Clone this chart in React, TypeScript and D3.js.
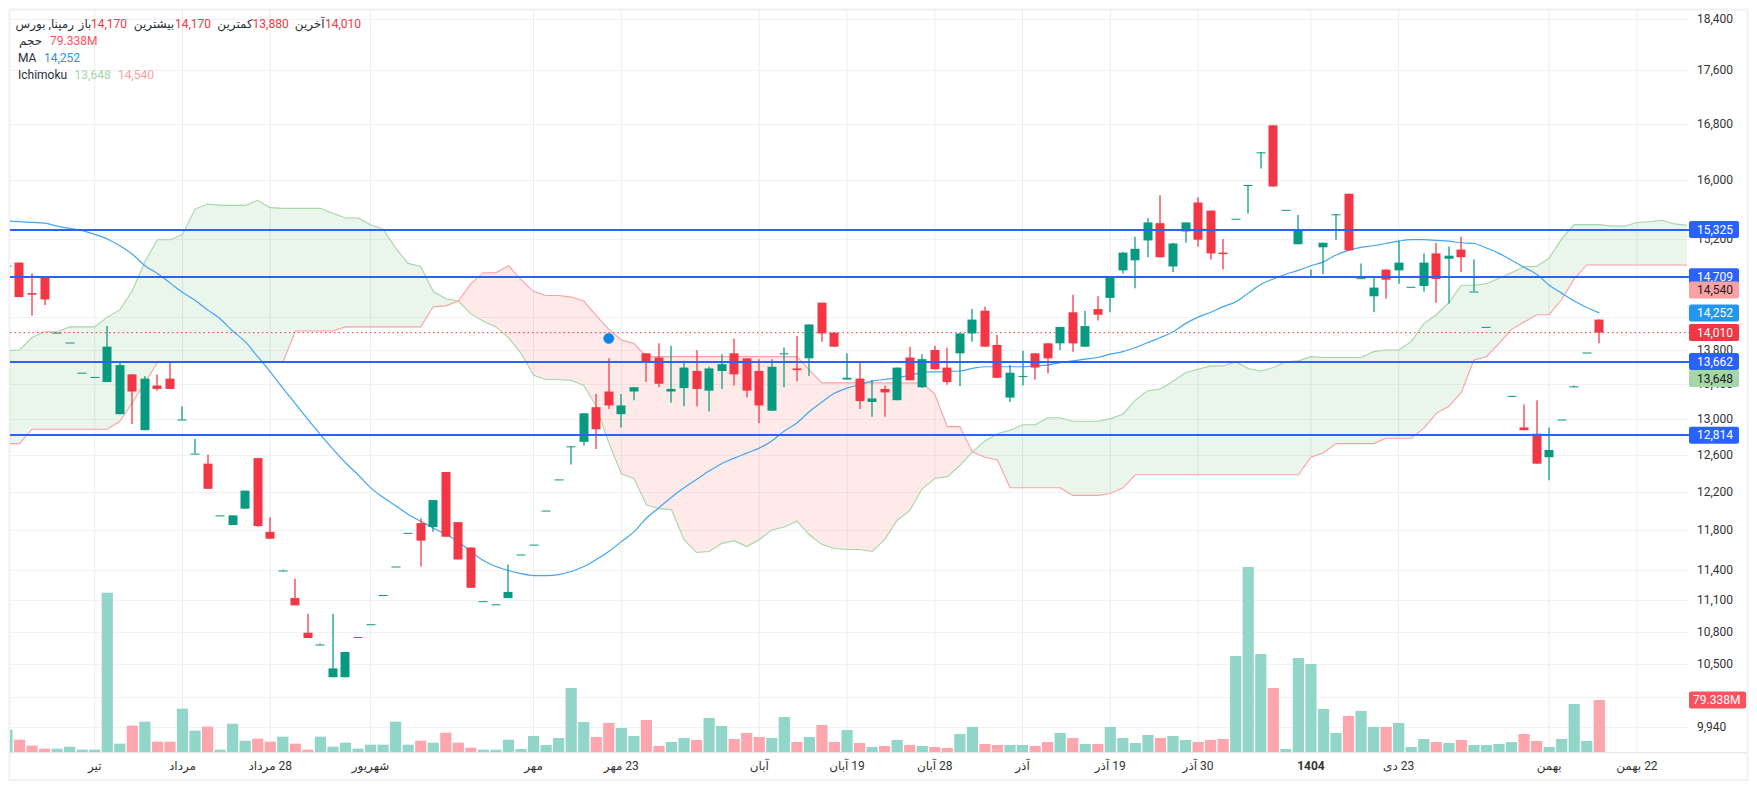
import React from "react";
import * as d3 from "d3";

const opens = [14850,
14890,14500,14700,14010,13890,13530,13480,13420,13050,13510,
12870,13380,13460,12990,12610,12500,11950,11850,12020,12560,
11780,11390,11120,10790,10680,10380,10380,10750,10870,11150,
11430,11770,11870,11830,12410,11880,11620,11090,11060,11120,
11550,11650,12000,12330,12690,12740,13130,13310,13050,13310,
13760,13710,13310,13350,13550,13320,13550,13760,13700,13550,
13090,13750,13580,13700,14380,14010,13450,13460,13190,13340,
13210,13710,13360,13800,13590,13760,14000,14280,13860,13240,
13480,13760,13880,13880,14260,13840,14300,14440,14790,14920,
15180,15410,14840,15300,15690,15580,15020,15470,15930,16390,
16780,15590,15130,14710,15090,15530,15810,14690,14460,14800,
14790,14580,14590,15010,14940,15060,14520,14080,13660,13260,
12900,12830,12570,12990,13370,13770,14170];
const highs = [14850,
14890,14750,14700,14010,13890,13530,13480,14090,13650,13510,
13490,13510,13650,13140,12770,12600,11950,11950,12210,12560,
11930,11400,11310,10970,10690,10970,10610,10750,10870,11150,
11430,11770,11920,12110,12410,11880,11620,11090,11060,11450,
11550,11650,12000,12330,12690,13060,13280,13700,13280,13360,
13760,13880,13850,13670,13800,13600,13750,13940,13700,13690,
13690,13830,13970,14110,14380,14010,13760,13650,13440,13380,
13590,13840,13750,13850,13830,14000,14300,14330,13980,13620,
13790,13760,13880,14080,14480,14280,14460,14710,15030,15230,
15480,15790,15150,15420,15760,15580,15200,15470,15930,16390,
16780,15590,15520,14800,15150,15530,15810,14880,14700,14800,
15180,14580,15010,15150,15100,15230,14930,14080,13660,13260,
13160,13210,12900,12990,13380,13770,14170];
const lows = [14850,
14450,14220,14350,14010,13890,13530,13480,13420,13050,12940,
12870,13320,13340,12990,12610,12230,11950,11850,12020,11830,
11710,11390,11050,10740,10680,10380,10380,10750,10870,11150,
11430,11770,11430,11780,11730,11500,11220,11090,11060,11120,
11550,11650,12000,12330,12490,12700,12660,13110,12900,13210,
13420,13360,13180,13140,13140,13080,13340,13380,13240,12950,
13090,13360,13430,13490,13900,13840,13450,13110,13020,13020,
13210,13440,13350,13570,13390,13370,13900,13840,13470,13190,
13380,13450,13520,13800,13780,13840,14160,14260,14750,14560,
14960,14960,14770,15150,15100,14930,14800,15470,15540,16160,
15910,15590,15130,14710,14740,15190,15050,14690,14260,14430,
14620,14580,14520,14380,14370,14770,14520,14080,13660,13260,
12870,12500,12320,12990,13360,13770,13880];
const closes = [14850,
14450,14480,14420,14010,13890,13530,13480,13840,13620,13310,
13460,13340,13340,12990,12610,12230,11950,11950,12210,11840,
11710,11390,11050,10740,10680,10460,10610,10750,10870,11150,
11430,11770,11690,12110,11730,11500,11220,11090,11060,11180,
11550,11650,12000,12330,12690,13060,12880,13150,13150,13360,
13660,13400,13340,13590,13340,13580,13630,13510,13320,13150,
13600,13760,13560,14110,14000,13840,13470,13200,13230,13300,
13590,13440,13690,13570,13420,14000,14170,13840,13470,13530,
13490,13590,13700,14080,13880,14090,14230,14710,15020,15070,
15420,14960,15140,15420,15190,15010,15000,15470,15930,16390,
15910,15590,15330,14710,15150,15530,15050,14690,14570,14670,
14890,14580,14890,14680,14980,14960,14520,14080,13660,13260,
12870,12500,12650,12990,13370,13770,14010];
const volumesM = [34,
18.8,9.7,5.1,5.1,8.1,3.6,3.6,243,12.7,40.2,
46.3,15.8,15.8,66.1,32.6,38.7,3.6,43.2,17.3,20.3,
15.8,23.4,12.7,3.6,23.4,8.1,14.2,5.1,11.2,11.2,
46.3,11.2,17.3,14.2,29.5,14.2,6.6,3.6,3.6,18.8,
4.6,24.4,10.7,21.4,97.7,45.8,22.9,44.3,36.6,24.4,
48.8,9.2,15.3,21.4,18.3,51.9,39.7,19.8,29,22.9,
21.4,53.4,15.3,22.9,41.2,15.3,33.6,13.7,7.6,9.2,
18.3,10.7,9.2,7.6,6.1,27.5,38.2,12.2,10.7,10.7,
10.7,9.2,15.3,29,21.4,12.2,12.2,38.2,21.4,13.7,
25.9,21.4,24.4,18.3,15.3,18.3,19.8,146.5,282.3,149.5,
97.7,4.6,143.4,134.3,65.6,29,54.9,62.6,38.2,38.2,
44.3,7.6,19.8,15.3,13.7,18.3,10.7,10.7,12.2,15.3,
27.5,16.8,7.6,19.8,73.2,16.8,79.338];
const movingAverage = [15440,
15430,15420,15410,15370,15340,15310,15260,15200,15110,15000,
14850,14750,14630,14510,14410,14290,14180,14030,13900,13720,
13540,13350,13170,12990,12820,12660,12510,12380,12240,12140,
12050,11960,11890,11820,11755,11680,11580,11490,11430,11390,
11360,11340,11340,11350,11380,11430,11500,11580,11680,11780,
11920,12030,12140,12240,12330,12420,12500,12560,12615,12670,
12750,12860,12950,13080,13190,13290,13350,13390,13430,13450,
13470,13500,13530,13540,13545,13550,13580,13600,13600,13600,
13600,13610,13620,13650,13670,13690,13710,13750,13780,13830,
13890,13950,14020,14120,14200,14260,14330,14390,14500,14610,
14680,14740,14790,14850,14900,14990,15050,15090,15110,15140,
15170,15190,15190,15180,15170,15150,15140,15080,15010,14920,
14830,14740,14600,14500,14400,14320,14252];
const spanA = [13790,
13800,13950,14020,14020,14080,14080,14080,14200,14290,14530,
14900,15190,15190,15260,15600,15670,15650,15650,15650,15720,
15620,15610,15610,15610,15610,15540,15480,15480,15390,15330,
15080,14880,14840,14520,14430,14400,14240,14150,14080,13950,
13760,13500,13450,13450,13440,13380,13140,12730,12390,12340,
12060,12020,12010,11700,11570,11580,11660,11690,11630,11700,
11800,11830,11890,11750,11650,11610,11600,11600,11580,11700,
11900,12000,12230,12340,12360,12480,12630,12750,12830,12870,
12930,12930,13010,13010,12970,12970,12970,13000,13050,13210,
13320,13340,13430,13530,13570,13610,13610,13660,13580,13550,
13590,13660,13670,13720,13710,13710,13710,13710,13780,13800,
13800,13900,14120,14230,14380,14600,14600,14620,14690,14760,
14840,14840,14950,15200,15390,15390,15390,15370,15370,15420,
15430,15450,15400,15380];
const spanB = [12720,
12720,12880,12880,12880,12880,12880,12880,12880,12970,13180,
13410,13650,13650,13650,13650,13650,13650,13650,13650,13650,
13650,13650,14030,14030,14030,14030,14080,14080,14080,14080,
14080,14080,14080,14330,14340,14400,14620,14760,14760,14850,
14670,14520,14470,14470,14450,14400,14220,14050,13920,13880,
13720,13720,13720,13720,13720,13720,13720,13720,13720,13720,
13720,13720,13720,13560,13410,13410,13410,13410,13410,13410,
13410,13410,13410,13280,12910,12910,12630,12570,12540,12240,
12240,12240,12240,12240,12160,12160,12160,12180,12240,12380,
12380,12380,12380,12380,12380,12380,12380,12380,12380,12380,
12380,12380,12380,12570,12620,12720,12720,12720,12720,12780,
12780,12780,12890,13060,13140,13300,13680,13720,13880,14050,
14140,14230,14230,14420,14680,14860,14860,14860,14860,14860,
14860,14860,14860,14860];
const horizontalLevels = [15325, 14709, 13662, 12814];
const priceTicks = [18400,17600,16800,16000,15200,14700,14200,13800,13400,13000,12600,12200,11800,11400,11100,10800,10500,10200,9940];
const coveredTickLabels = [14700, 14200];
const timeLabels = ["تیر","مرداد","28 مرداد","شهریور","مهر","23 مهر","آبان","19 آبان","28 آبان","آذر","19 آذر","30 آذر","1404","23 دی","بهمن","22 بهمن"];
const timeIndices = [7,14,21,29,42,49,60,67,74,81,88,95,104,111,123,130];
const signalIndex = 48;
const signalPrice = 13940;
const lastPrice = 14010;
const lastVolume = 79.338;

const GREEN = "#089981", RED = "#f23645", BLUE = "#2962ff", MA = "#2196f3", SPANG = "#a5d6a7", SPANR = "#faa1a4";
const FONT = "Roboto, 'Noto Sans', 'DejaVu Sans', sans-serif";
const L = 10, R = 1689, T = 10, B = 752;

const x = d3.scaleLinear().domain([0, 127]).range([6.96, 1599.3]);
const y = d3.scaleLog().domain([18400, 9940]).range([19.4, 727]);
const vol = d3.scaleLinear().domain([0, lastVolume]).range([B, 700]);
const fmt = d3.format(",");

const idx = d3.range(spanA.length);
const greenArea = d3.area<number>().x(i => x(i)).y0(i => y(spanB[i])).y1(i => y(Math.max(spanA[i], spanB[i])))(idx) as string;
const redArea = d3.area<number>().x(i => x(i)).y0(i => y(spanB[i])).y1(i => y(Math.min(spanA[i], spanB[i])))(idx) as string;
const aLine = d3.line<number>().x(i => x(i)).y(i => y(spanA[i]))(idx) as string;
const bLine = d3.line<number>().x(i => x(i)).y(i => y(spanB[i]))(idx) as string;
const maLine = d3.line<number>().x((_, i) => x(i)).y(d => y(d)).curve(d3.curveMonotoneX)(movingAverage) as string;

type Box = { label: string; cy: number; fill: string; color: string; w?: number };
const boxes: Box[] = [
  { label: "15,325", cy: y(15325), fill: BLUE, color: "#fff" },
  { label: "14,709", cy: y(14709), fill: BLUE, color: "#fff" },
  { label: "14,540", cy: y(14540), fill: SPANR, color: "#222" },
  { label: "14,252", cy: y(14252), fill: MA, color: "#fff" },
  { label: fmt(lastPrice), cy: y(lastPrice), fill: "#f23645", color: "#fff" },
  { label: "13,662", cy: y(13662), fill: BLUE, color: "#fff" },
  { label: "13,648", cy: y(13662) + 17, fill: SPANG, color: "#222" },
  { label: "12,814", cy: y(12814), fill: BLUE, color: "#fff" },
  { label: lastVolume + "M", cy: vol(lastVolume), fill: "#f7525f", color: "#fff", w: 57 },
];

function T2({ x: tx, y: ty, fill = "#2a2e39", anchor = "start", rtl, bold, children }: any) {
  return (
    <text x={tx} y={ty} fill={fill} fontSize={12} fontFamily={FONT} fontWeight={bold ? 700 : 400}
      textAnchor={anchor} dominantBaseline="central" style={rtl ? { direction: "rtl", unicodeBidi: "plaintext" } : undefined}>
      {children}
    </text>
  );
}

export default function App() {
  return (
    <svg width={1757} height={790} viewBox="0 0 1757 790" style={{ position: "absolute", left: 0, top: 0, background: "#fff", display: "block" }}>
      <defs>
        <clipPath id="plot"><rect x={L} y={T} width={R - L} height={B - T} /></clipPath>
      </defs>
      <rect x={9.5} y={9.5} width={1738} height={770.5} fill="none" stroke="#f0f0f5" strokeWidth={2} />

      {priceTicks.map(p => <line key={p} x1={L} x2={R} y1={Math.round(y(p)) + 0.5} y2={Math.round(y(p)) + 0.5} stroke="#f1f2f4" strokeWidth={1.2} />)}
      {timeIndices.map(t => <line key={t} x1={x(t)} x2={x(t)} y1={T} y2={B} stroke="#ebedf0" strokeWidth={1} />)}

      <g clipPath="url(#plot)">
        <path d={greenArea} fill="#43a047" fillOpacity={0.11} />
        <path d={redArea} fill="#f44336" fillOpacity={0.11} />
        <path d={aLine} fill="none" stroke={SPANG} strokeWidth={1.1} />
        <path d={bLine} fill="none" stroke={SPANR} strokeWidth={1.1} />

        {volumesM.map((v, i) => (
          <rect key={i} x={x(i) - 5.6} width={11.2} y={vol(v)} height={B - vol(v)}
            fill={closes[i] >= opens[i] ? "#92d5c9" : "#fda6ad"} />
        ))}

        <line x1={L} x2={R} y1={y(lastPrice)} y2={y(lastPrice)} stroke={RED} strokeWidth={1} strokeDasharray="1.5 3" />
        <path d={maLine} fill="none" stroke="#42a5f5" strokeWidth={1.2} />

        {opens.map((o, i) => {
          const c = closes[i];
          const col = c >= o ? GREEN : RED;
          const cx = Math.round(x(i));
          const top = y(Math.max(o, c));
          const bot = y(Math.min(o, c));
          return (
            <g key={i}>
              <line x1={cx} x2={cx} y1={y(highs[i])} y2={y(lows[i])} stroke={col} strokeWidth={1.25} />
              <rect x={cx - 4.5} width={9} y={top} height={Math.max(1, bot - top)} fill={col} />
            </g>
          );
        })}
        <circle cx={x(signalIndex)} cy={y(signalPrice)} r={5.2} fill="#0a84ea" stroke="#2196f3" strokeWidth={0.6} />
      </g>

      {horizontalLevels.map(l => <line key={l} x1={L} x2={R} y1={Math.round(y(l))} y2={Math.round(y(l))} stroke={BLUE} strokeWidth={2} />)}

      <line x1={L} x2={1747} y1={752.7} y2={752.7} stroke="#e6e7ee" strokeWidth={1.2} />

      {priceTicks.filter(p => !coveredTickLabels.includes(p)).map(p => <T2 key={p} x={1697} y={y(p)} fill="#333">{fmt(p)}</T2>)}
      {boxes.map(b => (
        <g key={b.label}>
          <rect x={1689} y={b.cy - 8.5} width={b.w ?? 50} height={17} rx={2} fill={b.fill} />
          <T2 x={b.w ? 1693 : 1697} y={b.cy} fill={b.color}>{b.label}</T2>
        </g>
      ))}

      {timeLabels.map((t, i) => (
        <T2 key={t} x={x(timeIndices[i])} y={765.7} anchor="middle" fill="#333" rtl bold={t === "1404"}>{t}</T2>
      ))}

      <T2 x={44.8} y={24} anchor="middle" rtl>رمپنا, بورس</T2>
      <T2 x={85} y={24} anchor="middle" rtl>باز</T2>
      <T2 x={91} y={24} fill={RED}>14,170</T2>
      <T2 x={154} y={24} anchor="middle" rtl>بیشترین</T2>
      <T2 x={175} y={24} fill={RED}>14,170</T2>
      <T2 x={235} y={24} anchor="middle" rtl>کمترین</T2>
      <T2 x={252.6} y={24} fill={RED}>13,880</T2>
      <T2 x={309.7} y={24} anchor="middle" rtl>آخرین</T2>
      <T2 x={325} y={24} fill={RED}>14,010</T2>
      <T2 x={30.5} y={41} anchor="middle" rtl>حجم</T2>
      <T2 x={50} y={41} fill="#f7525f">79.338M</T2>
      <T2 x={18} y={58}>MA</T2>
      <T2 x={44} y={58} fill={MA}>14,252</T2>
      <T2 x={18} y={75}>Ichimoku</T2>
      <T2 x={74.6} y={75} fill={SPANG}>13,648</T2>
      <T2 x={118} y={75} fill={SPANR}>14,540</T2>
    </svg>
  );
}
